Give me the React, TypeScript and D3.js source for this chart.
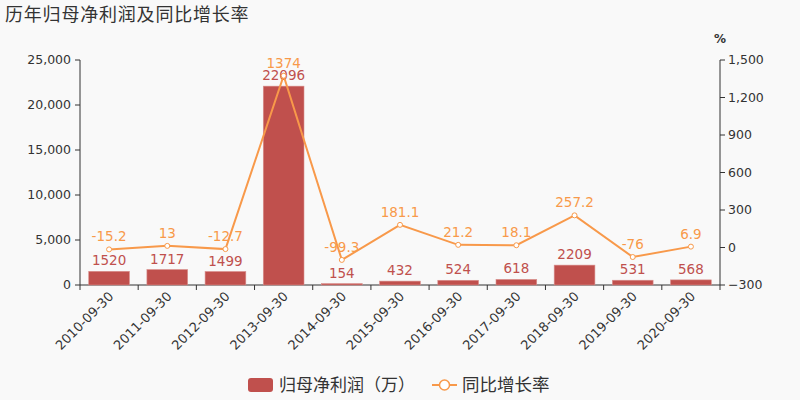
import * as d3 from "d3";
import React, { useEffect, useRef } from "react";

const categories = [
  "2010-09-30",
  "2011-09-30",
  "2012-09-30",
  "2013-09-30",
  "2014-09-30",
  "2015-09-30",
  "2016-09-30",
  "2017-09-30",
  "2018-09-30",
  "2019-09-30",
  "2020-09-30",
];
const profit = [1520, 1717, 1499, 22096, 154, 432, 524, 618, 2209, 531, 568];
const growth = [-15.2, 13, -12.7, 1374, -99.3, 181.1, 21.2, 18.1, 257.2, -76, 6.9];
const leftTicks = [0, 5000, 10000, 15000, 20000, 25000];
const rightTicks = [-300, 0, 300, 600, 900, 1200, 1500];

const barColor = "#c0504d";
const lineColor = "#f8994a";
const textColor = "#333";
const font = "'DejaVu Sans', 'Noto Sans CJK SC', sans-serif";

export default function App() {
  const ref = useRef<SVGSVGElement>(null);

  useEffect(() => {
    const width = 800;
    const height = 400;
    const margin = { top: 60, right: 80, bottom: 115, left: 80 };
    const innerW = width - margin.left - margin.right;
    const innerH = height - margin.top - margin.bottom;

    const svg = d3.select(ref.current);
    svg.selectAll("*").remove();
    svg.attr("width", width).attr("height", height);

    svg.append("rect").attr("width", width).attr("height", height).attr("fill", "#f9f9f9");

    svg
      .append("text")
      .text("历年归母净利润及同比增长率")
      .attr("x", 5)
      .attr("y", 21)
      .attr("font-size", "18px")
      .attr("letter-spacing", "0.8px")
      .attr("fill", textColor)
      .attr("font-family", font);

    const main = svg.append("g").attr("transform", `translate(${margin.left},${margin.top})`);

    const x = d3.scaleBand().domain(categories).range([0, innerW]).paddingInner(0.3).paddingOuter(0.15);
    const band = d3.scaleBand().domain(categories).range([0, innerW]);
    const yL = d3.scaleLinear().domain([0, 25000]).range([innerH, 0]);
    const yR = d3.scaleLinear().domain([-300, 1500]).range([innerH, 0]);
    const cx = (c: string) => (band(c) as number) + band.bandwidth() / 2;

    // x axis, ticks between the bands
    const xg = main.append("g").attr("transform", `translate(0,${innerH})`);
    xg.append("line").attr("x1", 0).attr("x2", innerW).attr("stroke", textColor);
    xg.selectAll(".tk")
      .data(d3.range(categories.length + 1))
      .enter()
      .append("line")
      .attr("x1", (i) => i * band.bandwidth())
      .attr("x2", (i) => i * band.bandwidth())
      .attr("y2", 5)
      .attr("stroke", textColor);
    xg.selectAll(".lb")
      .data(categories)
      .enter()
      .append("text")
      .text((d) => d)
      .attr("text-anchor", "end")
      .attr("font-size", "13px")
      .attr("font-family", font)
      .attr("fill", textColor)
      .attr("transform", (d) => `translate(${cx(d) + 2},${9}) rotate(-45)`)
      .attr("dy", "0.35em");

    // left axis
    const lg = main.append("g");
    lg.append("line").attr("y1", 0).attr("y2", innerH).attr("stroke", textColor);
    lg.selectAll(".tk")
      .data(leftTicks)
      .enter()
      .append("line")
      .attr("x2", -5)
      .attr("y1", (d) => yL(d))
      .attr("y2", (d) => yL(d))
      .attr("stroke", textColor);
    lg.selectAll(".lb")
      .data(leftTicks)
      .enter()
      .append("text")
      .text((d) => d3.format(",")(d))
      .attr("x", -9)
      .attr("y", (d) => yL(d))
      .attr("dy", "0.35em")
      .attr("text-anchor", "end")
      .attr("font-size", "12.5px")
      .attr("font-family", font)
      .attr("fill", textColor);

    // right axis
    const rg = main.append("g").attr("transform", `translate(${innerW},0)`);
    rg.append("line").attr("y1", 0).attr("y2", innerH).attr("stroke", textColor);
    rg.selectAll(".tk")
      .data(rightTicks)
      .enter()
      .append("line")
      .attr("x2", 5)
      .attr("y1", (d) => yR(d))
      .attr("y2", (d) => yR(d))
      .attr("stroke", textColor);
    rg.selectAll(".lb")
      .data(rightTicks)
      .enter()
      .append("text")
      .text((d) => d3.format(",")(d))
      .attr("x", 8)
      .attr("y", (d) => yR(d))
      .attr("dy", "0.35em")
      .attr("font-size", "12.5px")
      .attr("font-family", font)
      .attr("fill", textColor);
    rg.append("text")
      .text("%")
      .attr("x", 0)
      .attr("y", -17)
      .attr("text-anchor", "middle")
      .attr("font-size", "12px")
      .attr("font-weight", "bold")
      .attr("font-family", font)
      .attr("fill", textColor);

    // bars
    main
      .selectAll(".bar")
      .data(profit)
      .enter()
      .append("rect")
      .attr("x", (d, i) => cx(categories[i]) - x.bandwidth() / 2)
      .attr("y", (d) => yL(d))
      .attr("width", x.bandwidth())
      .attr("height", (d) => innerH - yL(d))
      .attr("fill", barColor)
      .attr("stroke", "#d98f8d")
      .attr("stroke-width", 0.6);

    main
      .selectAll(".barLabel")
      .data(profit)
      .enter()
      .append("text")
      .text((d) => d)
      .attr("x", (d, i) => cx(categories[i]))
      .attr("y", (d) => yL(d) - 6)
      .attr("text-anchor", "middle")
      .attr("font-size", "13.5px")
      .attr("font-family", font)
      .attr("fill", barColor);

    // growth line
    const line = d3
      .line<number>()
      .x((d, i) => cx(categories[i]))
      .y((d) => yR(d));

    main
      .append("path")
      .datum(growth)
      .attr("d", line)
      .attr("fill", "none")
      .attr("stroke", lineColor)
      .attr("stroke-width", 2);

    main
      .selectAll(".pt")
      .data(growth)
      .enter()
      .append("circle")
      .attr("cx", (d, i) => cx(categories[i]))
      .attr("cy", (d) => yR(d))
      .attr("r", 2.5)
      .attr("fill", "#fff")
      .attr("stroke", lineColor)
      .attr("stroke-width", 1);

    main
      .selectAll(".lineLabel")
      .data(growth)
      .enter()
      .append("text")
      .text((d) => d)
      .attr("x", (d, i) => cx(categories[i]))
      .attr("y", (d) => yR(d) - 8)
      .attr("text-anchor", "middle")
      .attr("font-size", "13.5px")
      .attr("font-family", font)
      .attr("fill", lineColor);

    // legend
    const leg = svg.append("g").attr("transform", `translate(248,385)`);
    leg.append("rect").attr("x", 0).attr("y", -7).attr("width", 25).attr("height", 14).attr("rx", 3).attr("fill", barColor);
    leg.append("text")
      .text("归母净利润（万）")
      .attr("x", 31)
      .attr("dy", "0.35em")
      .attr("font-size", "17px")
      .attr("font-family", font)
      .attr("fill", textColor);
    leg.append("line").attr("x1", 184).attr("x2", 209).attr("stroke", lineColor).attr("stroke-width", 2);
    leg.append("circle").attr("cx", 196.5).attr("r", 5).attr("fill", "#fff").attr("stroke", lineColor).attr("stroke-width", 1.5);
    leg.append("text")
      .text("同比增长率")
      .attr("x", 214)
      .attr("dy", "0.35em")
      .attr("font-size", "17.5px")
      .attr("font-family", font)
      .attr("fill", textColor);
  }, []);

  return (
    <div style={{ position: "fixed", left: 0, top: 0 }}>
      <svg ref={ref}></svg>
    </div>
  );
}
